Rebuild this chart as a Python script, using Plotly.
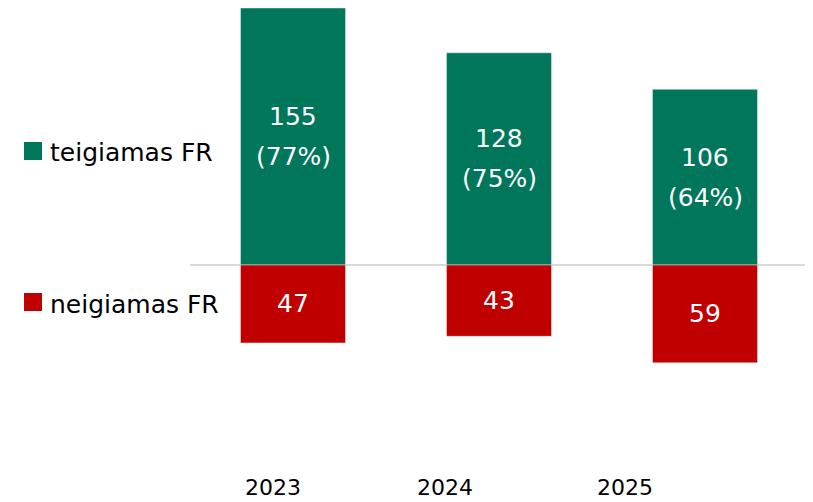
import plotly.graph_objects as go

years = ["2023", "2024", "2025"]
positive = [155, 128, 106]
positive_pct = ["77%", "75%", "64%"]
negative = [47, 43, 59]
series_names = ["teigiamas FR", "neigiamas FR"]

GREEN = "#00765A"
RED = "#C00000"
FONT = "DejaVu Sans"
FS = 25

# the html page body has an 8px margin; figure coords = page coords - 8
OFF = 8
W, H = 813, 502
L = 190 - OFF
R = W - (808 - OFF)
plot_w = W - L - R
x_idx = list(range(len(years)))

fig = go.Figure()
fig.add_trace(go.Bar(
    x=x_idx, y=positive, name=series_names[0], marker_color=GREEN,
    marker_line=dict(color="rgba(255,255,255,0.45)", width=1),
    width=0.51, showlegend=False, hoverinfo="skip"))
fig.add_trace(go.Bar(
    x=x_idx, y=[-v for v in negative], name=series_names[1], marker_color=RED,
    marker_line=dict(color="rgba(255,255,255,0.45)", width=1),
    width=0.51, text=[str(v) for v in negative], textposition="inside",
    insidetextanchor="middle", textangle=0,
    textfont=dict(color="white", size=FS, family=FONT),
    showlegend=False, hoverinfo="skip"))

ann = []
for i, (v, p) in enumerate(zip(positive, positive_pct)):
    ann.append(dict(x=i, y=v / 2, xref="x", yref="y", text=str(v), showarrow=False,
                    yshift=20, font=dict(color="white", size=FS, family=FONT)))
    ann.append(dict(x=i, y=v / 2, xref="x", yref="y", text=f"({p})", showarrow=False,
                    yshift=-20, font=dict(color="white", size=FS, family=FONT)))

# year labels (positioned as in the reference, slightly left of bar centres)
year_label_px = [273, 445, 625]
for yr, px in zip(years, year_label_px):
    ann.append(dict(x=(px - OFF - L) / plot_w, y=1 - (487 - OFF) / H,
                    xref="paper", yref="paper",
                    text=yr, showarrow=False, xanchor="center", yanchor="middle",
                    font=dict(color="black", size=22, family=FONT)))

# legend (manual)
shapes = []
legend_rows = [(151, GREEN), (302, RED)]
for name, (py, col) in zip(series_names, legend_rows):
    shapes.append(dict(type="rect", xref="paper", yref="paper",
                       x0=(24 - OFF - L) / plot_w, x1=(42 - OFF - L) / plot_w,
                       y0=1 - (py - 9 - OFF) / H, y1=1 - (py + 9 - OFF) / H,
                       fillcolor=col, line=dict(width=0)))
    ann.append(dict(x=(48 - OFF - L) / plot_w, y=1 - (py + 2 - OFF) / H,
                    xref="paper", yref="paper",
                    text=name, showarrow=False, xanchor="left", yanchor="middle",
                    font=dict(color="black", size=FS, family=FONT)))

zero_px = 265 - OFF
scale = (265 - 8) / positive[0]
fig.update_layout(
    width=W, height=H, barmode="relative",
    margin=dict(l=L, r=R, t=0, b=0, autoexpand=False),
    paper_bgcolor="white", plot_bgcolor="white",
    font=dict(family=FONT, size=FS),
    xaxis=dict(range=[-0.5, 2.5], showticklabels=False, showgrid=False,
               zeroline=False, showline=False, ticks=""),
    yaxis=dict(range=[-(H - zero_px) / scale, zero_px / scale], showticklabels=False,
               showgrid=False, zeroline=True, zerolinecolor="#D9D9D9",
               zerolinewidth=2, showline=False, ticks=""),
    annotations=ann, shapes=shapes,
)

fig.write_html("out.html")
